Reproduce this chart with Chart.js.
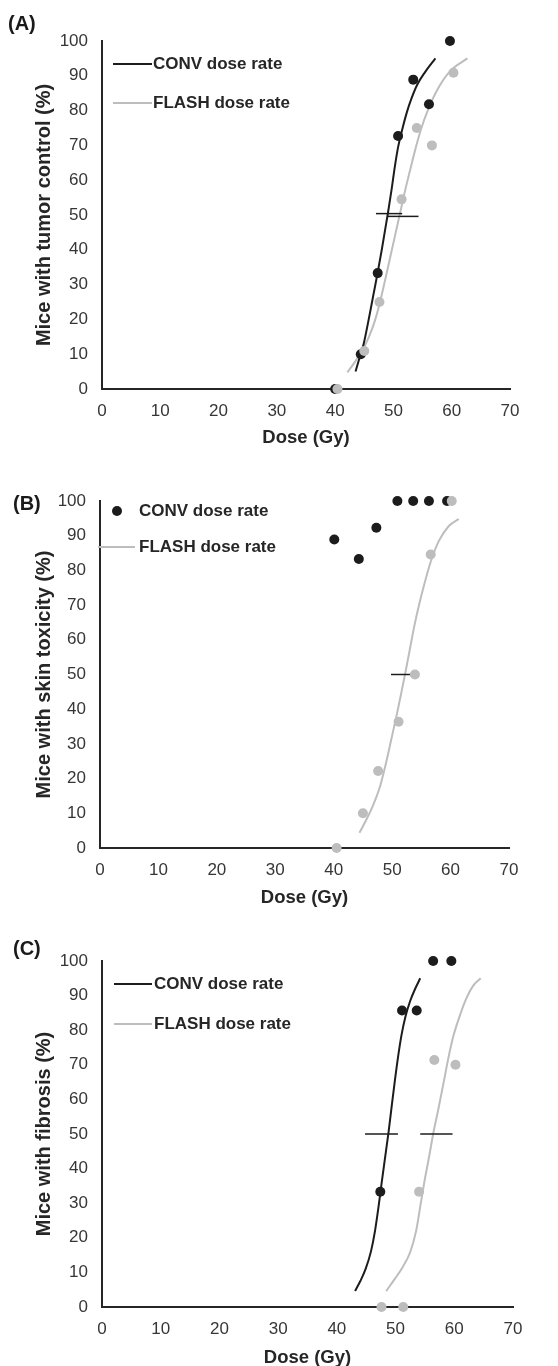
<!DOCTYPE html>
<html>
<head>
<meta charset="utf-8">
<title>Dose response</title>
<script src="https://cdn.jsdelivr.net/npm/chart.js@4.4.1/dist/chart.umd.min.js"></script>
<style>
  html, body { margin: 0; padding: 0; background: #fff; overflow: hidden; }
  body { width: 558px; height: 1366px; position: relative; font-family: "Liberation Sans", Arial, sans-serif; }
  .panel { position: absolute; left: 0; width: 558px; height: 460px; }
  .panel canvas { display: block; }
  .tag { position: absolute; font-weight: bold; font-size: 20px; line-height: 20px; color: #1a1a1a; }
</style>
</head>
<body>
<div class="panel" style="top:0"><canvas id="chartA" width="558" height="460"></canvas></div>
<div class="panel" style="top:460px"><canvas id="chartB" width="558" height="460"></canvas></div>
<div class="panel" style="top:920px"><canvas id="chartC" width="558" height="460"></canvas></div>
<div class="tag" style="left:8px;top:13px">(A)</div>
<div class="tag" style="left:13px;top:493px">(B)</div>
<div class="tag" style="left:13px;top:938px">(C)</div>

<script>
// ---- data ----
const seriesNames = ['CONV dose rate', 'FLASH dose rate'];
const doseTicks = [0, 10, 20, 30, 40, 50, 60, 70];
const pctTicks = [0, 10, 20, 30, 40, 50, 60, 70, 80, 90, 100];
const xTitle = 'Dose (Gy)';
const yTitles = ['Mice with tumor control (%)', 'Mice with skin toxicity (%)', 'Mice with fibrosis (%)'];

// (A) tumor control
const tumorConvDose = [40, 44.4, 47.3, 50.8, 53.4, 56.1, 59.7];
const tumorConvPct = [0, 10, 33.3, 72.7, 88.9, 81.8, 100];
const tumorFlashDose = [40.4, 45, 47.6, 51.4, 54, 56.6, 60.3];
const tumorFlashPct = [0, 10.9, 25, 54.5, 75, 70, 90.9];
const tumorConvFitDose = [43.5, 44.1, 44.9, 45.7, 46.5, 47.3, 48.0, 48.6, 49.1, 49.7, 50.25, 50.8, 51.5, 52.3, 53.1, 54.1, 55.4, 57.2];
const tumorConvFitPct = [5, 8.5, 13, 19.5, 26.5, 33.5, 40, 46, 51, 57.5, 64, 69.5, 74.5, 79.5, 83.5, 87.5, 91, 95];
const tumorFlashFitDose = [42.1, 43.4, 44.7, 45.8, 46.8, 47.7, 48.6, 49.6, 50.4, 51.2, 52.0, 52.8, 53.7, 54.7, 56.0, 57.7, 59.8, 62.7];
const tumorFlashFitPct = [4.8, 7.8, 11.2, 15, 19.5, 25, 31.5, 39, 45, 51, 57, 62.5, 68.5, 74.5, 80.5, 86.5, 91.5, 95];
const tumorConvBarDose = [47.0, 51.5];
const tumorConvBarPct = [50.4, 50.4];
const tumorFlashBarDose = [49.0, 54.3];
const tumorFlashBarPct = [49.6, 49.6];

// (B) skin toxicity
const skinConvDose = [40.1, 44.3, 47.3, 50.9, 53.6, 56.3, 59.4];
const skinConvPct = [88.9, 83.3, 92.3, 100, 100, 100, 100];
const skinFlashDose = [40.5, 45, 47.6, 51.1, 53.9, 56.6, 60.2];
const skinFlashPct = [0, 10, 22.2, 36.4, 50, 84.6, 100];
const skinFlashFitDose = [44.4, 45.6, 46.8, 47.9, 48.8, 49.8, 50.8, 51.6, 52.2, 53.0, 53.8, 54.6, 55.5, 56.6, 58.0, 59.7, 61.4];
const skinFlashFitPct = [4.4, 8.2, 12.6, 17.6, 23.4, 30.9, 38.5, 45, 50, 57, 64, 70, 76, 82.5, 88.5, 92.8, 94.8];
const skinFlashBarDose = [49.8, 53.6];
const skinFlashBarPct = [50, 50];

// (C) fibrosis
const fibConvDose = [47.4, 51.1, 53.6, 56.4, 59.5];
const fibConvPct = [33.3, 85.7, 85.7, 100, 100];
const fibFlashDose = [47.6, 51.3, 54.0, 56.6, 60.2];
const fibFlashPct = [0, 0, 33.3, 71.4, 70];
const fibConvFitDose = [43.1, 44.0, 44.9, 45.8, 46.5, 47.1, 47.6, 48.2, 48.8, 49.3, 49.85, 50.4, 51.0, 51.7, 52.5, 53.4, 54.2];
const fibConvFitPct = [4.6, 7.5, 11, 16, 22, 29, 35.5, 43, 50.5, 57.5, 65, 72, 78.5, 84, 88.5, 92.2, 95];
const fibFlashFitDose = [48.4, 49.9, 51.2, 52.5, 53.5, 54.2, 54.95, 55.7, 56.4, 57.3, 58.2, 59.0, 59.8, 60.7, 62.0, 63.2, 64.5];
const fibFlashFitPct = [4.6, 8.2, 11.5, 15.9, 22, 29, 36.6, 43.3, 50, 57.3, 65, 72, 78, 83, 89, 92.8, 95];
const fibConvBarDose = [44.8, 50.4];
const fibConvBarPct = [50, 50];
const fibFlashBarDose = [54.2, 59.7];
const fibFlashBarPct = [50, 50];

// ---- styles ----
const BLACK = '#1c1c1c';
const GREY = '#bdbdbd';
const FONT = '"Liberation Sans", Arial, sans-serif';

function pts(xs, ys) {
    return xs.map((x, i) => ({ x: x, y: ys[i] }));
}

function dots(xs, ys, color, order) {
    return { data: pts(xs, ys), showLine: false, pointRadius: 5, pointHoverRadius: 5,
             pointBackgroundColor: color, pointBorderWidth: 0, clip: false, order: order };
}

function curve(xs, ys, color, order) {
    return { data: pts(xs, ys), showLine: true, pointRadius: 0, borderColor: color, borderWidth: 2,
             cubicInterpolationMode: 'monotone', clip: false, order: order };
}

function bar(xs, ys, order) {
    return { data: pts(xs, ys), showLine: true, pointRadius: 0, borderColor: BLACK, borderWidth: 1.5,
             clip: false, order: order };
}

// legend drawn inside the plot area, like the original figure
const insideLegend = {
    id: 'insideLegend',
    afterDraw(chart, args, opts) {
        const ctx = chart.ctx;
        ctx.save();
        ctx.font = 'bold 17px ' + FONT;
        ctx.textBaseline = 'middle';
        opts.items.forEach(it => {
            if (it.marker === 'dot') {
                ctx.beginPath();
                ctx.arc(it.mx, it.y, 5, 0, Math.PI * 2);
                ctx.fillStyle = it.color;
                ctx.fill();
            } else {
                ctx.beginPath();
                ctx.moveTo(it.x1, it.y);
                ctx.lineTo(it.x2, it.y);
                ctx.strokeStyle = it.color;
                ctx.lineWidth = 2;
                ctx.stroke();
            }
            ctx.fillStyle = '#262626';
            ctx.fillText(it.text, it.tx, it.y);
        });
        ctx.restore();
    }
};

function makePanel(id, datasets, yTitle, box, legendItems) {
    return new Chart(document.getElementById(id), {
        type: 'scatter',
        data: { datasets: datasets },
        plugins: [insideLegend],
        options: {
            responsive: false,
            animation: false,
            events: [],
            layout: { padding: { left: 0, right: 558 - box.right, top: box.top, bottom: 0 } },
            plugins: {
                legend: { display: false },
                tooltip: { enabled: false },
                insideLegend: { items: legendItems }
            },
            scales: {
                x: {
                    type: 'linear', min: 0, max: 70,
                    afterBuildTicks: s => { s.ticks = doseTicks.map(v => ({ value: v })); },
                    afterFit: s => { s.height = 460 - box.bottom; },
                    grid: { display: false, drawTicks: false },
                    border: { display: true, color: '#262626', width: 2 },
                    ticks: { padding: 12, color: '#363636', font: { family: FONT, size: 17 } },
                    title: { display: true, text: xTitle, color: '#262626',
                             font: { family: FONT, size: 18.5, weight: 'bold' }, padding: { top: 0, bottom: 11 } }
                },
                y: {
                    type: 'linear', min: 0, max: 100,
                    afterBuildTicks: s => { s.ticks = pctTicks.map(v => ({ value: v })); },
                    afterFit: s => { s.width = box.left; },
                    grid: { display: false, drawTicks: false },
                    border: { display: true, color: '#262626', width: 2 },
                    ticks: { padding: 14, color: '#363636', font: { family: FONT, size: 17 } },
                    title: { display: true, text: yTitle, color: '#262626',
                             font: { family: FONT, size: 20, weight: 'bold' }, padding: { top: 32, bottom: 0 } }
                }
            }
        }
    });
}

makePanel('chartA', [
    dots(tumorFlashDose, tumorFlashPct, GREY, 0),
    dots(tumorConvDose, tumorConvPct, BLACK, 1),
    bar(tumorConvBarDose, tumorConvBarPct, 2),
    bar(tumorFlashBarDose, tumorFlashBarPct, 2),
    curve(tumorConvFitDose, tumorConvFitPct, BLACK, 3),
    curve(tumorFlashFitDose, tumorFlashFitPct, GREY, 4)
], yTitles[0], { left: 102, right: 510, top: 41, bottom: 389 }, [
    { text: seriesNames[0], marker: 'line', color: BLACK, x1: 113, x2: 152, tx: 153, y: 64 },
    { text: seriesNames[1], marker: 'line', color: GREY, x1: 113, x2: 152, tx: 153, y: 103 }
]);

makePanel('chartB', [
    dots(skinFlashDose, skinFlashPct, GREY, 0),
    dots(skinConvDose, skinConvPct, BLACK, 1),
    bar(skinFlashBarDose, skinFlashBarPct, 2),
    curve(skinFlashFitDose, skinFlashFitPct, GREY, 4)
], yTitles[1], { left: 100, right: 509, top: 41, bottom: 388 }, [
    { text: seriesNames[0], marker: 'dot', color: BLACK, mx: 117, tx: 139, y: 51 },
    { text: seriesNames[1], marker: 'line', color: GREY, x1: 98, x2: 135, tx: 139, y: 87 }
]);

makePanel('chartC', [
    dots(fibFlashDose, fibFlashPct, GREY, 0),
    dots(fibConvDose, fibConvPct, BLACK, 1),
    bar(fibConvBarDose, fibConvBarPct, 2),
    bar(fibFlashBarDose, fibFlashBarPct, 2),
    curve(fibConvFitDose, fibConvFitPct, BLACK, 3),
    curve(fibFlashFitDose, fibFlashFitPct, GREY, 4)
], yTitles[2], { left: 102, right: 513, top: 41, bottom: 387 }, [
    { text: seriesNames[0], marker: 'line', color: BLACK, x1: 114, x2: 152, tx: 154, y: 64 },
    { text: seriesNames[1], marker: 'line', color: GREY, x1: 114, x2: 152, tx: 154, y: 104 }
]);
</script>
</body>
</html>
